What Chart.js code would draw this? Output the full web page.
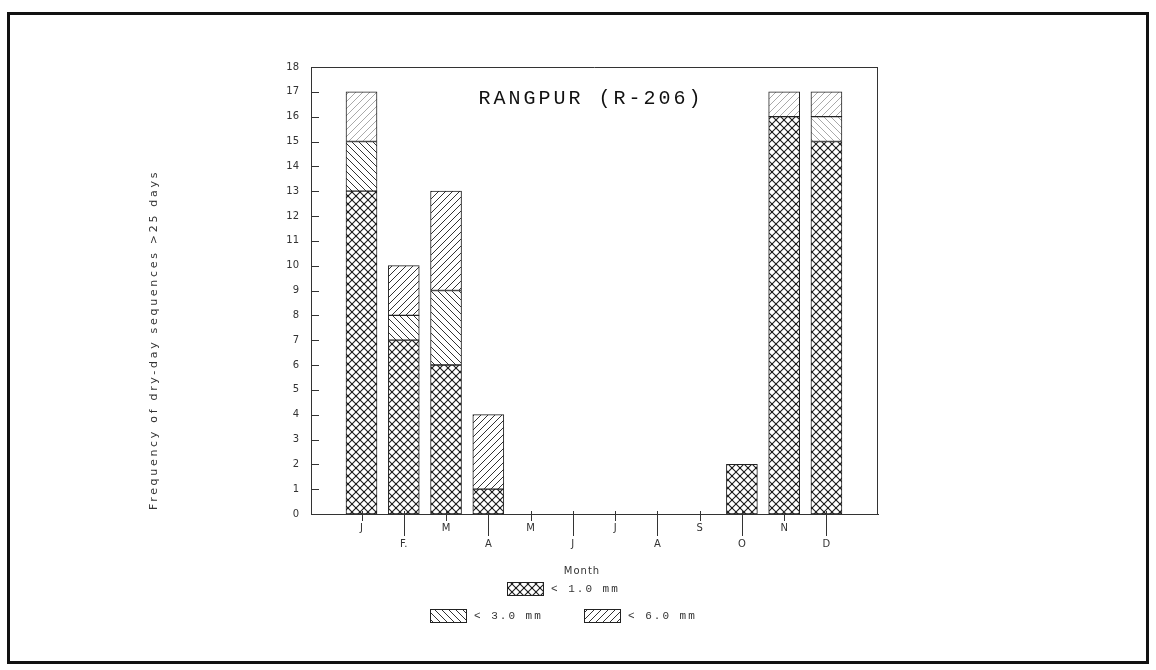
<!DOCTYPE html>
<html>
<head>
<meta charset="utf-8">
<script src="https://cdn.jsdelivr.net/npm/chart.js@4/dist/chart.umd.min.js"></script>
<style>
  body { margin: 0; background: #fff; }
  #wrap { width: 1156px; height: 670px; }
</style>
</head>
<body>
<div id="wrap"><canvas id="dryChart" width="1156" height="670"></canvas></div>
<script>
// months on the x axis (tick labels as printed)
const months = ['J', 'F.', 'M', 'A', 'M', 'J', 'J', 'A', 'S', 'O', 'N', 'D'];
// frequency of dry-day sequences > 25 days, stacked by rainfall threshold
const below1 = [13, 7, 6, 1, 0, 0, 0, 0, 0, 2, 16, 15];
const below3 = [2, 1, 3, 0, 0, 0, 0, 0, 0, 0, 0, 1];
const below6 = [2, 2, 4, 3, 0, 0, 0, 0, 0, 0, 1, 1];
const yTicks = [0, 1, 2, 3, 4, 5, 6, 7, 8, 9, 10, 11, 12, 13, 14, 15, 16, 17, 18];
const legendNames = ['< 1.0 mm', '< 3.0 mm', '< 6.0 mm'];

const makePattern = (type, color) => {
  const s = type === 'cross' ? 8 : 7;
  const c = document.createElement('canvas');
  c.width = s; c.height = s;
  const g = c.getContext('2d');
  g.fillStyle = '#fff';
  g.fillRect(0, 0, s, s);
  g.strokeStyle = color;
  g.lineWidth = type === 'cross' ? 1.1 : 1;
  const line = (x1, y1, x2, y2) => { g.beginPath(); g.moveTo(x1, y1); g.lineTo(x2, y2); g.stroke(); };
  if (type === 'fwd' || type === 'cross') {
    line(-1, s + 1, s + 1, -1); line(-1, 1, 1, -1); line(s - 1, s + 1, s + 1, s - 1);
  }
  if (type === 'back' || type === 'cross') {
    line(-1, -1, s + 1, s + 1); line(s - 1, -1, s + 1, 1); line(-1, s - 1, 1, s + 1);
  }
  if (type === 'cross') {
    g.fillStyle = color;
    g.fillRect(s / 2 - 1, s / 2 - 1, 2, 2);
  }
  return g.createPattern(c, 'repeat');
};

const crossP = makePattern('cross', '#1a1a1a');
const backP = makePattern('back', '#333');
const fwdP = makePattern('fwd', '#333');
const backFaint = makePattern('back', '#aaa');
const fwdFaint = makePattern('fwd', '#aaa');

// the top segments of J, N and D came out faint in the print
const below3Fill = below3.map((v, i) => i === 11 ? backFaint : backP);
const below6Fill = below6.map((v, i) => (i === 0 || i === 10 || i === 11) ? fwdFaint : fwdP);

const toPoints = arr => arr.map((v, i) => ({ x: i, y: v }));

const decorations = {
  id: 'decorations',
  afterDraw(chart) {
    const ctx = chart.ctx;
    const { left, right, top, bottom } = chart.chartArea;
    const xs = chart.scales.x;
    const ys = chart.scales.y;
    ctx.save();

    // page frame
    ctx.strokeStyle = '#111';
    ctx.lineWidth = 3;
    ctx.strokeRect(8.5, 13.5, 1139, 649);

    // plot box top and right
    ctx.strokeStyle = '#333';
    ctx.lineWidth = 1;
    ctx.beginPath();
    ctx.moveTo(left, top + 0.5); ctx.lineTo(right, top + 0.5);
    ctx.moveTo(right - 0.5, top); ctx.lineTo(right - 0.5, bottom);
    ctx.stroke();

    // inward y ticks
    ctx.beginPath();
    yTicks.forEach(v => {
      const y = Math.round(ys.getPixelForValue(v)) + 0.5;
      ctx.moveTo(left, y); ctx.lineTo(left + 8, y);
    });
    ctx.stroke();

    // x ticks, long ones for the lower row of labels
    ctx.beginPath();
    months.forEach((m, i) => {
      const x = Math.round(xs.getPixelForValue(i)) + 0.5;
      ctx.moveTo(x, bottom - 3);
      ctx.lineTo(x, bottom + (i % 2 ? 22 : 7));
    });
    ctx.stroke();

    // title inside the plot
    ctx.fillStyle = '#111';
    ctx.font = '20px "Liberation Mono"';
    ctx.letterSpacing = '3px';
    ctx.textAlign = 'center';
    ctx.textBaseline = 'middle';
    ctx.fillText('RANGPUR (R-206)', 591, 99);

    // y axis title
    ctx.save();
    ctx.translate(154, 340);
    ctx.rotate(-Math.PI / 2);
    ctx.font = '11px "DejaVu Sans"';
    ctx.letterSpacing = '2.7px';
    ctx.fillStyle = '#333';
    ctx.fillText('Frequency of dry-day sequences >25 days', 0, 0);
    ctx.restore();

    // x axis title and legend
    ctx.font = '10px "DejaVu Sans"';
    ctx.letterSpacing = '1px';
    ctx.fillStyle = '#333';
    ctx.fillText('Month', 582, 571);

    const fills = [crossP, backP, fwdP];
    const spots = [[507, 582], [430, 609], [584, 609]];
    ctx.font = '11px "Liberation Mono"';
    ctx.letterSpacing = '2px';
    ctx.textAlign = 'left';
    spots.forEach(([bx, by], i) => {
      ctx.fillStyle = fills[i];
      ctx.fillRect(bx, by, 36, 13);
      ctx.strokeStyle = '#222';
      ctx.lineWidth = 1;
      ctx.strokeRect(bx + 0.5, by + 0.5, 36, 13);
      ctx.fillStyle = '#333';
      ctx.fillText(legendNames[i], bx + 44, by + 7);
    });
    ctx.restore();
  }
};

new Chart(document.getElementById('dryChart'), {
  type: 'bar',
  data: {
    datasets: [
      { label: legendNames[0], data: toPoints(below1), backgroundColor: crossP },
      { label: legendNames[1], data: toPoints(below3), backgroundColor: below3Fill },
      { label: legendNames[2], data: toPoints(below6), backgroundColor: below6Fill }
    ]
  },
  options: {
    responsive: false,
    animation: false,
    layout: { padding: { left: 200, top: 67, right: 278, bottom: 96 } },
    datasets: {
      bar: { barThickness: 31, borderColor: '#222', borderWidth: 1, borderSkipped: false }
    },
    plugins: { legend: { display: false }, tooltip: { enabled: false } },
    scales: {
      x: {
        type: 'linear',
        stacked: true,
        min: -1.195,
        max: 12.22,
        offset: false,
        afterBuildTicks: s => { s.ticks = months.map((m, i) => ({ value: i })); },
        afterFit: s => { s.height = 60; },
        grid: { display: false, drawTicks: false },
        border: { display: true, color: '#333', width: 1 },
        ticks: {
          autoSkip: false,
          maxRotation: 0,
          padding: 6,
          color: '#333',
          font: { family: 'DejaVu Sans', size: 10, lineHeight: 1.6 },
          callback: v => (v % 2 ? ['', months[v]] : [months[v]])
        }
      },
      y: {
        stacked: true,
        min: 0,
        max: 18,
        afterBuildTicks: s => { s.ticks = yTicks.map(v => ({ value: v })); },
        afterFit: s => { s.width = 111; },
        grid: { display: false, drawTicks: false },
        border: { display: true, color: '#333', width: 1 },
        ticks: {
          autoSkip: false,
          padding: 12,
          color: '#333',
          font: { family: 'DejaVu Sans', size: 10 }
        }
      }
    }
  },
  plugins: [decorations]
});
</script>
</body>
</html>
